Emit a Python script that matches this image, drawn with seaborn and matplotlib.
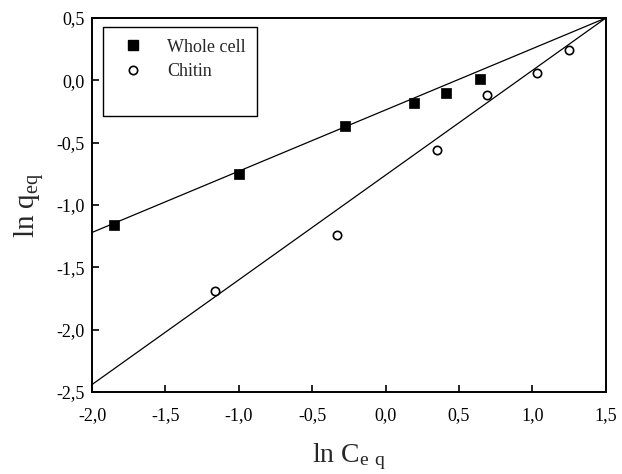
import matplotlib
matplotlib.use("Agg")
import matplotlib.pyplot as plt
import seaborn as sns
from matplotlib.lines import Line2D

# --- data ---
whole_x = [-1.85, -1.00, -0.28, 0.19, 0.41, 0.64]
whole_y = [-1.16, -0.75, -0.37, -0.18, -0.10, 0.01]
chitin_x = [-1.16, -0.33, 0.35, 0.69, 1.03, 1.25]
chitin_y = [-1.69, -1.24, -0.56, -0.12, 0.06, 0.24]

# fitted lines (end points across the axis range)
fit_x = [-2.0, 1.5]
whole_fit_y = [-1.22, 0.50]
chitin_fit_y = [-2.44, 0.50]

x_ticks = [-2.0, -1.5, -1.0, -0.5, 0.0, 0.5, 1.0, 1.5]
y_ticks = [-2.5, -2.0, -1.5, -1.0, -0.5, 0.0, 0.5]

sns.set_style("ticks")
plt.rcParams.update({
    'font.family': ['Liberation Serif', 'DejaVu Serif'],
    'mathtext.fontset': 'custom',
    'mathtext.rm': 'Liberation Serif',
    'mathtext.it': 'Liberation Serif:italic',
    'axes.linewidth': 1.4,
    'axes.edgecolor': 'black',
    'xtick.direction': 'in',
    'ytick.direction': 'in',
    'xtick.major.size': 5,
    'ytick.major.size': 5,
    'xtick.major.width': 1.2,
    'ytick.major.width': 1.2,
    'xtick.color': 'black',
    'ytick.color': 'black',
})

fig = plt.figure(figsize=(6.22, 4.74), dpi=100)
ax = fig.add_axes([0.148, 0.173, 0.826, 0.789])

sns.lineplot(x=fit_x, y=whole_fit_y, ax=ax, color='black', linewidth=0.9)
sns.lineplot(x=fit_x, y=chitin_fit_y, ax=ax, color='black', linewidth=0.9)

sns.scatterplot(x=whole_x, y=whole_y, ax=ax, marker='s', s=48,
                color='black', edgecolor='black', linewidth=0.5, zorder=3)
sns.scatterplot(x=chitin_x, y=chitin_y, ax=ax, marker='o', s=36,
                facecolor='white', edgecolor='black', linewidth=1.2, zorder=3)

ax.set_xlim(-2.0, 1.5)
ax.set_ylim(-2.5, 0.5)
ax.set_xticks(x_ticks)
ax.set_yticks(y_ticks)
ax.set_xticklabels([f"{v:.1f}".replace('.', ',') for v in x_ticks], fontsize=13)
ax.set_yticklabels([f"{v:.1f}".replace('.', ',') for v in y_ticks], fontsize=13)
ax.tick_params(axis='x', pad=11)
ax.tick_params(axis='y', pad=5)

ax.set_xlabel(r"ln C$_{\mathrm{e\;\,q}}$", fontsize=20, labelpad=12)
ax.set_ylabel(r"ln q$_{\mathrm{eq}}$", fontsize=21, labelpad=8)

handles = [
    Line2D([], [], marker='s', linestyle='none', color='black', markersize=6.8),
    Line2D([], [], marker='o', linestyle='none', markerfacecolor='white',
           markeredgecolor='black', markeredgewidth=1.2, markersize=6.0),
    Line2D([], [], linestyle='none'),
]
leg = ax.legend(handles, ['Whole cell', 'Chitin', ' '], loc='upper left',
                bbox_to_anchor=(0.021, 0.976), borderaxespad=0, fontsize=13,
                frameon=True, fancybox=False, framealpha=1, edgecolor='black',
                borderpad=0.65, labelspacing=0.4, handletextpad=0.9,
                handlelength=2.0)
leg.get_frame().set_linewidth(1.0)

fig.savefig("out.png", dpi=100)
